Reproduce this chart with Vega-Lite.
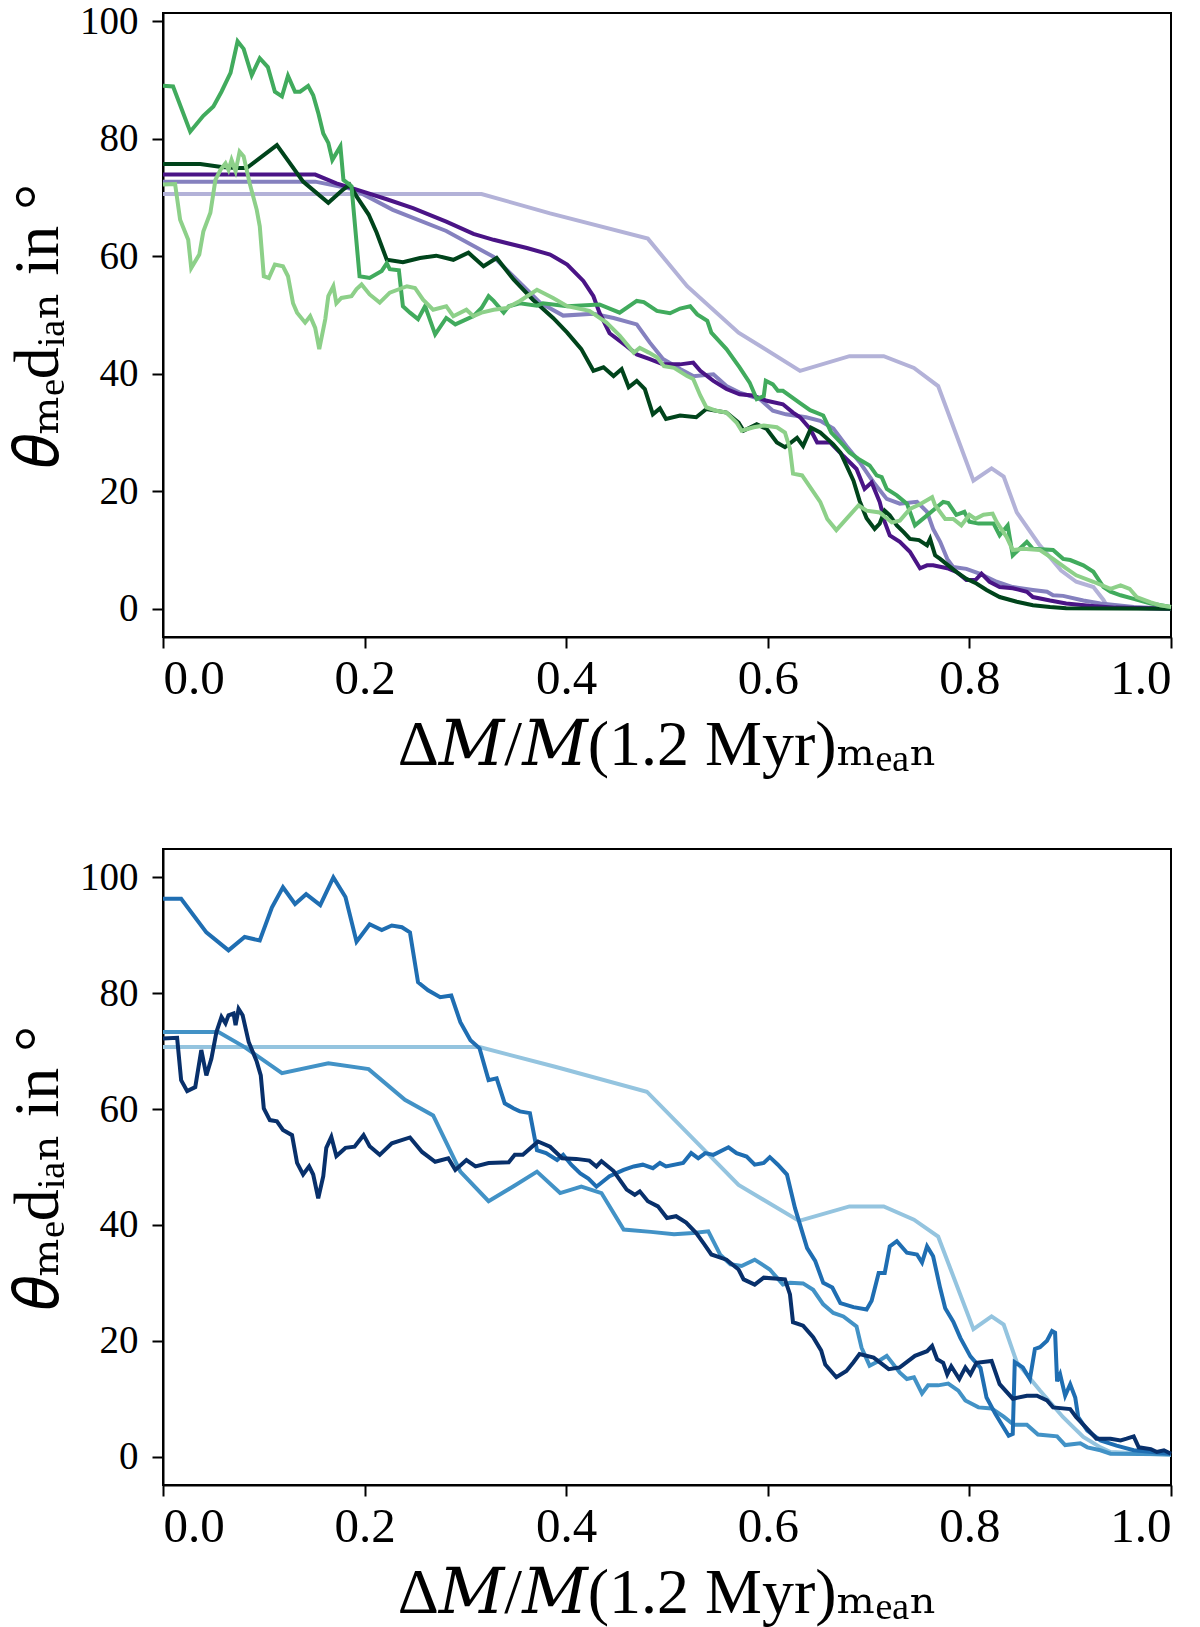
{
  "$schema": "https://vega.github.io/schema/vega-lite/v6.json",
  "background": "white",
  "padding": {"left": 5, "top": 1, "right": 20, "bottom": 5},
  "datasets": {
    "top": [
      {"s":"a","x":0,"y":70.6},{"s":"a","x":0.316,"y":70.6},{"s":"a","x":0.384,"y":67.3},{"s":"a","x":0.481,"y":63.0},{"s":"a","x":0.52,"y":54.9},{"s":"a","x":0.571,"y":47.0},{"s":"a","x":0.632,"y":40.5},{"s":"a","x":0.681,"y":43.0},{"s":"a","x":0.715,"y":43.0},{"s":"a","x":0.745,"y":41.0},{"s":"a","x":0.769,"y":37.9},{"s":"a","x":0.804,"y":21.8},{"s":"a","x":0.822,"y":23.9},{"s":"a","x":0.834,"y":22.5},{"s":"a","x":0.847,"y":16.4},{"s":"a","x":0.869,"y":11.0},{"s":"a","x":0.891,"y":6.5},{"s":"a","x":0.906,"y":4.6},{"s":"a","x":0.923,"y":3.7},{"s":"a","x":0.933,"y":1.5},{"s":"a","x":0.937,"y":0.3},{"s":"a","x":1.0,"y":0},
      {"s":"b","x":0,"y":72.7},{"s":"b","x":0.151,"y":72.7},{"s":"b","x":0.189,"y":71.4},{"s":"b","x":0.228,"y":67.9},{"s":"b","x":0.281,"y":64.3},{"s":"b","x":0.328,"y":59.9},{"s":"b","x":0.354,"y":55.5},{"s":"b","x":0.374,"y":52.1},{"s":"b","x":0.397,"y":49.9},{"s":"b","x":0.427,"y":50.2},{"s":"b","x":0.447,"y":49.5},{"s":"b","x":0.47,"y":48.4},{"s":"b","x":0.483,"y":45.3},{"s":"b","x":0.496,"y":42.5},{"s":"b","x":0.513,"y":40.8},{"s":"b","x":0.526,"y":39.6},{"s":"b","x":0.546,"y":39.9},{"s":"b","x":0.559,"y":37.9},{"s":"b","x":0.572,"y":36.8},{"s":"b","x":0.592,"y":35.7},{"s":"b","x":0.605,"y":33.7},{"s":"b","x":0.618,"y":33.1},{"s":"b","x":0.638,"y":32.6},{"s":"b","x":0.652,"y":32.0},{"s":"b","x":0.665,"y":30.7},{"s":"b","x":0.678,"y":27.7},{"s":"b","x":0.691,"y":25.0},{"s":"b","x":0.705,"y":21.5},{"s":"b","x":0.718,"y":18.7},{"s":"b","x":0.731,"y":17.9},{"s":"b","x":0.748,"y":18.2},{"s":"b","x":0.758,"y":16.5},{"s":"b","x":0.764,"y":13.6},{"s":"b","x":0.771,"y":11.4},{"s":"b","x":0.778,"y":8.5},{"s":"b","x":0.784,"y":7.1},{"s":"b","x":0.797,"y":6.8},{"s":"b","x":0.81,"y":6.0},{"s":"b","x":0.827,"y":4.6},{"s":"b","x":0.843,"y":3.7},{"s":"b","x":0.863,"y":3.2},{"s":"b","x":0.877,"y":2.9},{"s":"b","x":0.883,"y":2.3},{"s":"b","x":0.893,"y":2.2},{"s":"b","x":0.913,"y":1.4},{"s":"b","x":0.93,"y":0.9},{"s":"b","x":0.963,"y":0.3},{"s":"b","x":1.0,"y":0},
      {"s":"c","x":0,"y":73.9},{"s":"c","x":0.151,"y":73.9},{"s":"c","x":0.172,"y":72.4},{"s":"c","x":0.189,"y":71.5},{"s":"c","x":0.222,"y":69.7},{"s":"c","x":0.248,"y":68.2},{"s":"c","x":0.281,"y":65.9},{"s":"c","x":0.308,"y":63.8},{"s":"c","x":0.328,"y":62.8},{"s":"c","x":0.361,"y":61.4},{"s":"c","x":0.384,"y":60.3},{"s":"c","x":0.401,"y":58.6},{"s":"c","x":0.417,"y":55.8},{"s":"c","x":0.427,"y":53.2},{"s":"c","x":0.433,"y":50.4},{"s":"c","x":0.443,"y":46.9},{"s":"c","x":0.46,"y":44.7},{"s":"c","x":0.47,"y":43.3},{"s":"c","x":0.483,"y":42.5},{"s":"c","x":0.496,"y":41.6},{"s":"c","x":0.513,"y":41.6},{"s":"c","x":0.526,"y":41.9},{"s":"c","x":0.533,"y":40.5},{"s":"c","x":0.546,"y":38.8},{"s":"c","x":0.559,"y":37.4},{"s":"c","x":0.572,"y":36.5},{"s":"c","x":0.585,"y":36.3},{"s":"c","x":0.599,"y":35.4},{"s":"c","x":0.615,"y":34.8},{"s":"c","x":0.625,"y":33.4},{"s":"c","x":0.632,"y":32.6},{"s":"c","x":0.642,"y":30.6},{"s":"c","x":0.649,"y":28.3},{"s":"c","x":0.662,"y":28.3},{"s":"c","x":0.675,"y":26.0},{"s":"c","x":0.688,"y":23.8},{"s":"c","x":0.696,"y":20.4},{"s":"c","x":0.703,"y":21.5},{"s":"c","x":0.711,"y":18.2},{"s":"c","x":0.716,"y":14.8},{"s":"c","x":0.721,"y":12.5},{"s":"c","x":0.731,"y":11.4},{"s":"c","x":0.741,"y":9.7},{"s":"c","x":0.751,"y":6.9},{"s":"c","x":0.758,"y":7.4},{"s":"c","x":0.764,"y":7.4},{"s":"c","x":0.778,"y":6.9},{"s":"c","x":0.787,"y":6.3},{"s":"c","x":0.797,"y":4.9},{"s":"c","x":0.806,"y":4.9},{"s":"c","x":0.812,"y":6.0},{"s":"c","x":0.82,"y":4.6},{"s":"c","x":0.83,"y":3.7},{"s":"c","x":0.843,"y":3.5},{"s":"c","x":0.857,"y":2.9},{"s":"c","x":0.863,"y":2.0},{"s":"c","x":0.88,"y":1.4},{"s":"c","x":0.896,"y":0.9},{"s":"c","x":0.919,"y":0.5},{"s":"c","x":0.945,"y":0.2},{"s":"c","x":1.0,"y":0},
      {"s":"d","x":0,"y":75.7},{"s":"d","x":0.037,"y":75.7},{"s":"d","x":0.058,"y":75.2},{"s":"d","x":0.073,"y":75.0},{"s":"d","x":0.083,"y":75.0},{"s":"d","x":0.113,"y":78.9},{"s":"d","x":0.139,"y":72.7},{"s":"d","x":0.164,"y":69.1},{"s":"d","x":0.177,"y":71.1},{"s":"d","x":0.185,"y":72.2},{"s":"d","x":0.192,"y":70.2},{"s":"d","x":0.204,"y":67.1},{"s":"d","x":0.212,"y":64.0},{"s":"d","x":0.222,"y":59.4},{"s":"d","x":0.238,"y":59.0},{"s":"d","x":0.255,"y":59.7},{"s":"d","x":0.271,"y":60.1},{"s":"d","x":0.288,"y":59.4},{"s":"d","x":0.303,"y":60.6},{"s":"d","x":0.318,"y":58.3},{"s":"d","x":0.331,"y":59.7},{"s":"d","x":0.348,"y":56.0},{"s":"d","x":0.367,"y":52.6},{"s":"d","x":0.387,"y":49.5},{"s":"d","x":0.401,"y":47.0},{"s":"d","x":0.415,"y":44.2},{"s":"d","x":0.427,"y":40.5},{"s":"d","x":0.437,"y":41.1},{"s":"d","x":0.447,"y":39.6},{"s":"d","x":0.455,"y":40.8},{"s":"d","x":0.462,"y":37.7},{"s":"d","x":0.47,"y":38.8},{"s":"d","x":0.478,"y":37.4},{"s":"d","x":0.486,"y":33.1},{"s":"d","x":0.493,"y":34.1},{"s":"d","x":0.499,"y":32.3},{"s":"d","x":0.513,"y":32.9},{"s":"d","x":0.529,"y":32.6},{"s":"d","x":0.539,"y":34.0},{"s":"d","x":0.559,"y":33.4},{"s":"d","x":0.571,"y":31.7},{"s":"d","x":0.576,"y":30.3},{"s":"d","x":0.589,"y":31.4},{"s":"d","x":0.599,"y":30.6},{"s":"d","x":0.609,"y":28.3},{"s":"d","x":0.617,"y":27.5},{"s":"d","x":0.629,"y":29.1},{"s":"d","x":0.635,"y":27.7},{"s":"d","x":0.643,"y":30.8},{"s":"d","x":0.652,"y":30.0},{"s":"d","x":0.665,"y":28.0},{"s":"d","x":0.672,"y":26.6},{"s":"d","x":0.678,"y":24.4},{"s":"d","x":0.685,"y":21.8},{"s":"d","x":0.691,"y":18.4},{"s":"d","x":0.698,"y":15.4},{"s":"d","x":0.706,"y":13.6},{"s":"d","x":0.711,"y":14.5},{"s":"d","x":0.716,"y":16.7},{"s":"d","x":0.721,"y":15.9},{"s":"d","x":0.728,"y":14.2},{"s":"d","x":0.735,"y":13.0},{"s":"d","x":0.741,"y":11.9},{"s":"d","x":0.75,"y":11.7},{"s":"d","x":0.758,"y":10.8},{"s":"d","x":0.761,"y":11.9},{"s":"d","x":0.766,"y":9.1},{"s":"d","x":0.771,"y":8.5},{"s":"d","x":0.779,"y":7.4},{"s":"d","x":0.787,"y":6.3},{"s":"d","x":0.797,"y":5.1},{"s":"d","x":0.807,"y":4.3},{"s":"d","x":0.817,"y":3.2},{"s":"d","x":0.83,"y":2.0},{"s":"d","x":0.847,"y":1.2},{"s":"d","x":0.863,"y":0.6},{"s":"d","x":0.88,"y":0.3},{"s":"d","x":0.896,"y":0.1},{"s":"d","x":1.0,"y":0},
      {"s":"e","x":0,"y":89.0},{"s":"e","x":0.01,"y":88.9},{"s":"e","x":0.027,"y":81.2},{"s":"e","x":0.04,"y":83.9},{"s":"e","x":0.05,"y":85.5},{"s":"e","x":0.058,"y":88.0},{"s":"e","x":0.067,"y":91.2},{"s":"e","x":0.074,"y":96.6},{"s":"e","x":0.08,"y":95.3},{"s":"e","x":0.088,"y":90.8},{"s":"e","x":0.096,"y":93.7},{"s":"e","x":0.104,"y":92.2},{"s":"e","x":0.111,"y":88.0},{"s":"e","x":0.118,"y":87.2},{"s":"e","x":0.124,"y":90.7},{"s":"e","x":0.131,"y":88.0},{"s":"e","x":0.136,"y":88.0},{"s":"e","x":0.144,"y":89.0},{"s":"e","x":0.149,"y":87.4},{"s":"e","x":0.154,"y":84.4},{"s":"e","x":0.159,"y":80.9},{"s":"e","x":0.164,"y":79.3},{"s":"e","x":0.168,"y":76.4},{"s":"e","x":0.176,"y":78.7},{"s":"e","x":0.179,"y":73.0},{"s":"e","x":0.187,"y":71.9},{"s":"e","x":0.195,"y":56.6},{"s":"e","x":0.205,"y":56.3},{"s":"e","x":0.217,"y":57.5},{"s":"e","x":0.222,"y":58.8},{"s":"e","x":0.225,"y":57.8},{"s":"e","x":0.234,"y":57.6},{"s":"e","x":0.238,"y":51.5},{"s":"e","x":0.245,"y":50.4},{"s":"e","x":0.253,"y":49.3},{"s":"e","x":0.26,"y":51.5},{"s":"e","x":0.27,"y":46.7},{"s":"e","x":0.281,"y":49.5},{"s":"e","x":0.29,"y":48.4},{"s":"e","x":0.308,"y":49.8},{"s":"e","x":0.316,"y":51.2},{"s":"e","x":0.323,"y":53.2},{"s":"e","x":0.328,"y":52.4},{"s":"e","x":0.338,"y":50.4},{"s":"e","x":0.343,"y":51.5},{"s":"e","x":0.354,"y":52.0},{"s":"e","x":0.371,"y":51.6},{"s":"e","x":0.377,"y":52.0},{"s":"e","x":0.401,"y":51.5},{"s":"e","x":0.433,"y":51.8},{"s":"e","x":0.453,"y":50.4},{"s":"e","x":0.47,"y":52.4},{"s":"e","x":0.477,"y":52.2},{"s":"e","x":0.49,"y":50.7},{"s":"e","x":0.503,"y":50.3},{"s":"e","x":0.513,"y":51.1},{"s":"e","x":0.523,"y":51.5},{"s":"e","x":0.53,"y":50.1},{"s":"e","x":0.54,"y":49.0},{"s":"e","x":0.544,"y":47.0},{"s":"e","x":0.559,"y":44.2},{"s":"e","x":0.572,"y":41.1},{"s":"e","x":0.582,"y":38.5},{"s":"e","x":0.589,"y":35.7},{"s":"e","x":0.596,"y":36.2},{"s":"e","x":0.598,"y":38.8},{"s":"e","x":0.605,"y":38.2},{"s":"e","x":0.61,"y":37.1},{"s":"e","x":0.615,"y":37.1},{"s":"e","x":0.632,"y":35.0},{"s":"e","x":0.642,"y":33.8},{"s":"e","x":0.655,"y":32.9},{"s":"e","x":0.663,"y":30.0},{"s":"e","x":0.675,"y":27.8},{"s":"e","x":0.681,"y":26.6},{"s":"e","x":0.69,"y":25.5},{"s":"e","x":0.701,"y":24.4},{"s":"e","x":0.708,"y":22.7},{"s":"e","x":0.713,"y":22.4},{"s":"e","x":0.718,"y":20.4},{"s":"e","x":0.728,"y":19.3},{"s":"e","x":0.738,"y":17.9},{"s":"e","x":0.746,"y":14.2},{"s":"e","x":0.758,"y":15.9},{"s":"e","x":0.774,"y":18.2},{"s":"e","x":0.779,"y":18.0},{"s":"e","x":0.787,"y":16.0},{"s":"e","x":0.795,"y":16.5},{"s":"e","x":0.8,"y":14.8},{"s":"e","x":0.809,"y":14.5},{"s":"e","x":0.824,"y":14.5},{"s":"e","x":0.83,"y":12.5},{"s":"e","x":0.838,"y":14.2},{"s":"e","x":0.843,"y":9.1},{"s":"e","x":0.857,"y":11.4},{"s":"e","x":0.863,"y":10.2},{"s":"e","x":0.883,"y":10.0},{"s":"e","x":0.893,"y":8.5},{"s":"e","x":0.9,"y":8.3},{"s":"e","x":0.913,"y":7.4},{"s":"e","x":0.923,"y":6.3},{"s":"e","x":0.933,"y":3.7},{"s":"e","x":0.94,"y":2.9},{"s":"e","x":0.95,"y":2.3},{"s":"e","x":0.963,"y":1.7},{"s":"e","x":0.98,"y":0.9},{"s":"e","x":1.0,"y":0.3},
      {"s":"f","x":0,"y":72.2},{"s":"f","x":0.012,"y":72.3},{"s":"f","x":0.017,"y":66.2},{"s":"f","x":0.021,"y":64.5},{"s":"f","x":0.025,"y":62.8},{"s":"f","x":0.028,"y":58.0},{"s":"f","x":0.036,"y":60.3},{"s":"f","x":0.04,"y":64.2},{"s":"f","x":0.047,"y":67.4},{"s":"f","x":0.052,"y":73.0},{"s":"f","x":0.057,"y":74.7},{"s":"f","x":0.062,"y":75.8},{"s":"f","x":0.065,"y":74.7},{"s":"f","x":0.068,"y":76.4},{"s":"f","x":0.072,"y":74.5},{"s":"f","x":0.076,"y":77.8},{"s":"f","x":0.08,"y":77.0},{"s":"f","x":0.086,"y":72.4},{"s":"f","x":0.093,"y":67.9},{"s":"f","x":0.096,"y":65.1},{"s":"f","x":0.1,"y":56.6},{"s":"f","x":0.105,"y":56.3},{"s":"f","x":0.111,"y":58.6},{"s":"f","x":0.119,"y":58.3},{"s":"f","x":0.124,"y":56.6},{"s":"f","x":0.129,"y":52.0},{"s":"f","x":0.133,"y":50.4},{"s":"f","x":0.141,"y":48.7},{"s":"f","x":0.146,"y":49.8},{"s":"f","x":0.151,"y":47.8},{"s":"f","x":0.155,"y":44.2},{"s":"f","x":0.161,"y":49.3},{"s":"f","x":0.164,"y":53.2},{"s":"f","x":0.169,"y":54.9},{"s":"f","x":0.172,"y":52.0},{"s":"f","x":0.177,"y":52.9},{"s":"f","x":0.187,"y":53.2},{"s":"f","x":0.192,"y":54.4},{"s":"f","x":0.197,"y":55.2},{"s":"f","x":0.205,"y":53.5},{"s":"f","x":0.215,"y":52.1},{"s":"f","x":0.225,"y":53.8},{"s":"f","x":0.242,"y":54.9},{"s":"f","x":0.25,"y":54.6},{"s":"f","x":0.258,"y":52.6},{"s":"f","x":0.268,"y":50.9},{"s":"f","x":0.281,"y":51.5},{"s":"f","x":0.288,"y":49.8},{"s":"f","x":0.301,"y":50.9},{"s":"f","x":0.308,"y":49.8},{"s":"f","x":0.316,"y":50.4},{"s":"f","x":0.328,"y":50.9},{"s":"f","x":0.341,"y":51.2},{"s":"f","x":0.354,"y":52.4},{"s":"f","x":0.371,"y":54.3},{"s":"f","x":0.387,"y":52.9},{"s":"f","x":0.401,"y":51.5},{"s":"f","x":0.423,"y":50.7},{"s":"f","x":0.44,"y":48.7},{"s":"f","x":0.453,"y":46.5},{"s":"f","x":0.467,"y":43.6},{"s":"f","x":0.473,"y":44.4},{"s":"f","x":0.482,"y":43.6},{"s":"f","x":0.49,"y":42.8},{"s":"f","x":0.497,"y":41.3},{"s":"f","x":0.507,"y":41.0},{"s":"f","x":0.52,"y":39.6},{"s":"f","x":0.526,"y":39.1},{"s":"f","x":0.533,"y":36.3},{"s":"f","x":0.539,"y":34.3},{"s":"f","x":0.549,"y":33.7},{"s":"f","x":0.559,"y":33.4},{"s":"f","x":0.569,"y":31.7},{"s":"f","x":0.574,"y":30.3},{"s":"f","x":0.586,"y":30.9},{"s":"f","x":0.596,"y":31.2},{"s":"f","x":0.609,"y":30.9},{"s":"f","x":0.617,"y":30.0},{"s":"f","x":0.622,"y":27.2},{"s":"f","x":0.625,"y":23.0},{"s":"f","x":0.634,"y":22.7},{"s":"f","x":0.642,"y":20.7},{"s":"f","x":0.652,"y":18.2},{"s":"f","x":0.659,"y":15.3},{"s":"f","x":0.668,"y":13.4},{"s":"f","x":0.678,"y":15.3},{"s":"f","x":0.69,"y":17.6},{"s":"f","x":0.698,"y":16.7},{"s":"f","x":0.711,"y":16.4},{"s":"f","x":0.723,"y":14.7},{"s":"f","x":0.731,"y":15.0},{"s":"f","x":0.741,"y":17.0},{"s":"f","x":0.751,"y":17.8},{"s":"f","x":0.763,"y":19.0},{"s":"f","x":0.766,"y":17.6},{"s":"f","x":0.776,"y":15.3},{"s":"f","x":0.784,"y":15.3},{"s":"f","x":0.792,"y":14.2},{"s":"f","x":0.8,"y":16.0},{"s":"f","x":0.806,"y":15.3},{"s":"f","x":0.814,"y":16.0},{"s":"f","x":0.823,"y":16.2},{"s":"f","x":0.827,"y":14.8},{"s":"f","x":0.837,"y":12.2},{"s":"f","x":0.843,"y":10.0},{"s":"f","x":0.853,"y":10.2},{"s":"f","x":0.87,"y":10.0},{"s":"f","x":0.883,"y":8.5},{"s":"f","x":0.896,"y":6.9},{"s":"f","x":0.906,"y":5.7},{"s":"f","x":0.923,"y":4.6},{"s":"f","x":0.94,"y":3.4},{"s":"f","x":0.95,"y":4.0},{"s":"f","x":0.959,"y":3.4},{"s":"f","x":0.966,"y":2.0},{"s":"f","x":0.98,"y":1.1},{"s":"f","x":0.989,"y":0.6},{"s":"f","x":1.0,"y":0.3}
    ],
    "bottom": [
      {"s":"a","x":0,"y":70.7},{"s":"a","x":0.314,"y":70.7},{"s":"a","x":0.389,"y":67.3},{"s":"a","x":0.48,"y":63.0},{"s":"a","x":0.571,"y":46.9},{"s":"a","x":0.631,"y":40.7},{"s":"a","x":0.681,"y":43.2},{"s":"a","x":0.715,"y":43.2},{"s":"a","x":0.745,"y":40.9},{"s":"a","x":0.769,"y":38.0},{"s":"a","x":0.804,"y":22.0},{"s":"a","x":0.822,"y":24.2},{"s":"a","x":0.834,"y":22.8},{"s":"a","x":0.847,"y":16.3},{"s":"a","x":0.87,"y":11.4},{"s":"a","x":0.893,"y":6.8},{"s":"a","x":0.903,"y":5.1},{"s":"a","x":0.913,"y":3.4},{"s":"a","x":0.93,"y":1.6},{"s":"a","x":0.94,"y":0.8},{"s":"a","x":1.0,"y":0.3},
      {"s":"b","x":0,"y":73.3},{"s":"b","x":0.055,"y":73.3},{"s":"b","x":0.081,"y":70.7},{"s":"b","x":0.118,"y":66.2},{"s":"b","x":0.164,"y":67.9},{"s":"b","x":0.204,"y":66.9},{"s":"b","x":0.24,"y":61.6},{"s":"b","x":0.268,"y":58.9},{"s":"b","x":0.295,"y":49.2},{"s":"b","x":0.323,"y":44.1},{"s":"b","x":0.349,"y":46.8},{"s":"b","x":0.371,"y":49.2},{"s":"b","x":0.394,"y":45.5},{"s":"b","x":0.415,"y":46.6},{"s":"b","x":0.435,"y":45.5},{"s":"b","x":0.457,"y":39.2},{"s":"b","x":0.484,"y":38.8},{"s":"b","x":0.507,"y":38.4},{"s":"b","x":0.526,"y":38.6},{"s":"b","x":0.541,"y":38.9},{"s":"b","x":0.553,"y":34.8},{"s":"b","x":0.563,"y":33.2},{"s":"b","x":0.574,"y":32.9},{"s":"b","x":0.587,"y":34.0},{"s":"b","x":0.602,"y":32.3},{"s":"b","x":0.615,"y":29.7},{"s":"b","x":0.622,"y":30.0},{"s":"b","x":0.635,"y":29.9},{"s":"b","x":0.645,"y":28.8},{"s":"b","x":0.655,"y":26.3},{"s":"b","x":0.665,"y":24.8},{"s":"b","x":0.675,"y":24.2},{"s":"b","x":0.688,"y":22.5},{"s":"b","x":0.693,"y":18.8},{"s":"b","x":0.701,"y":15.7},{"s":"b","x":0.71,"y":16.5},{"s":"b","x":0.718,"y":17.4},{"s":"b","x":0.731,"y":14.5},{"s":"b","x":0.738,"y":13.4},{"s":"b","x":0.745,"y":13.7},{"s":"b","x":0.753,"y":10.9},{"s":"b","x":0.759,"y":12.3},{"s":"b","x":0.769,"y":12.3},{"s":"b","x":0.779,"y":12.6},{"s":"b","x":0.789,"y":11.4},{"s":"b","x":0.796,"y":9.7},{"s":"b","x":0.809,"y":8.5},{"s":"b","x":0.822,"y":8.3},{"s":"b","x":0.834,"y":6.9},{"s":"b","x":0.844,"y":5.5},{"s":"b","x":0.857,"y":5.5},{"s":"b","x":0.868,"y":3.8},{"s":"b","x":0.887,"y":3.5},{"s":"b","x":0.895,"y":2.0},{"s":"b","x":0.91,"y":2.3},{"s":"b","x":0.917,"y":1.6},{"s":"b","x":0.93,"y":1.1},{"s":"b","x":0.94,"y":0.5},{"s":"b","x":1.0,"y":0.4},
      {"s":"c","x":0,"y":96.3},{"s":"c","x":0.018,"y":96.3},{"s":"c","x":0.043,"y":90.5},{"s":"c","x":0.065,"y":87.4},{"s":"c","x":0.081,"y":89.7},{"s":"c","x":0.096,"y":89.1},{"s":"c","x":0.108,"y":94.8},{"s":"c","x":0.119,"y":98.3},{"s":"c","x":0.131,"y":95.4},{"s":"c","x":0.142,"y":97.1},{"s":"c","x":0.156,"y":95.2},{"s":"c","x":0.169,"y":100.0},{"s":"c","x":0.181,"y":96.6},{"s":"c","x":0.192,"y":88.9},{"s":"c","x":0.205,"y":91.9},{"s":"c","x":0.217,"y":90.9},{"s":"c","x":0.227,"y":91.7},{"s":"c","x":0.237,"y":91.4},{"s":"c","x":0.245,"y":90.5},{"s":"c","x":0.253,"y":81.9},{"s":"c","x":0.263,"y":80.5},{"s":"c","x":0.275,"y":79.3},{"s":"c","x":0.286,"y":79.6},{"s":"c","x":0.295,"y":75.0},{"s":"c","x":0.305,"y":71.9},{"s":"c","x":0.314,"y":70.5},{"s":"c","x":0.323,"y":65.0},{"s":"c","x":0.331,"y":65.3},{"s":"c","x":0.339,"y":61.0},{"s":"c","x":0.348,"y":60.1},{"s":"c","x":0.354,"y":59.6},{"s":"c","x":0.364,"y":59.3},{"s":"c","x":0.371,"y":52.9},{"s":"c","x":0.38,"y":52.4},{"s":"c","x":0.391,"y":51.2},{"s":"c","x":0.397,"y":52.1},{"s":"c","x":0.405,"y":50.4},{"s":"c","x":0.414,"y":48.9},{"s":"c","x":0.422,"y":48.0},{"s":"c","x":0.43,"y":46.6},{"s":"c","x":0.443,"y":48.4},{"s":"c","x":0.457,"y":49.5},{"s":"c","x":0.467,"y":50.1},{"s":"c","x":0.476,"y":50.4},{"s":"c","x":0.486,"y":49.8},{"s":"c","x":0.493,"y":50.7},{"s":"c","x":0.499,"y":50.1},{"s":"c","x":0.516,"y":50.7},{"s":"c","x":0.524,"y":52.4},{"s":"c","x":0.531,"y":51.5},{"s":"c","x":0.538,"y":52.4},{"s":"c","x":0.546,"y":52.1},{"s":"c","x":0.561,"y":53.4},{"s":"c","x":0.569,"y":52.4},{"s":"c","x":0.579,"y":51.8},{"s":"c","x":0.587,"y":50.4},{"s":"c","x":0.596,"y":50.7},{"s":"c","x":0.602,"y":51.7},{"s":"c","x":0.61,"y":50.4},{"s":"c","x":0.619,"y":48.7},{"s":"c","x":0.627,"y":42.9},{"s":"c","x":0.639,"y":36.0},{"s":"c","x":0.647,"y":33.8},{"s":"c","x":0.655,"y":30.0},{"s":"c","x":0.664,"y":29.2},{"s":"c","x":0.672,"y":26.5},{"s":"c","x":0.685,"y":25.8},{"s":"c","x":0.698,"y":25.4},{"s":"c","x":0.703,"y":26.9},{"s":"c","x":0.71,"y":31.7},{"s":"c","x":0.716,"y":31.7},{"s":"c","x":0.721,"y":36.3},{"s":"c","x":0.728,"y":37.2},{"s":"c","x":0.738,"y":35.2},{"s":"c","x":0.748,"y":34.9},{"s":"c","x":0.753,"y":33.5},{"s":"c","x":0.758,"y":36.3},{"s":"c","x":0.764,"y":34.6},{"s":"c","x":0.771,"y":29.1},{"s":"c","x":0.776,"y":25.6},{"s":"c","x":0.784,"y":23.3},{"s":"c","x":0.791,"y":20.5},{"s":"c","x":0.801,"y":17.3},{"s":"c","x":0.811,"y":15.3},{"s":"c","x":0.817,"y":10.2},{"s":"c","x":0.826,"y":7.3},{"s":"c","x":0.832,"y":5.6},{"s":"c","x":0.839,"y":3.6},{"s":"c","x":0.843,"y":3.9},{"s":"c","x":0.845,"y":16.3},{"s":"c","x":0.853,"y":15.4},{"s":"c","x":0.86,"y":13.4},{"s":"c","x":0.865,"y":18.6},{"s":"c","x":0.87,"y":18.9},{"s":"c","x":0.877,"y":20.0},{"s":"c","x":0.882,"y":21.7},{"s":"c","x":0.885,"y":21.4},{"s":"c","x":0.887,"y":13.0},{"s":"c","x":0.89,"y":14.2},{"s":"c","x":0.895,"y":10.5},{"s":"c","x":0.9,"y":12.5},{"s":"c","x":0.905,"y":10.2},{"s":"c","x":0.908,"y":6.8},{"s":"c","x":0.917,"y":4.5},{"s":"c","x":0.93,"y":2.8},{"s":"c","x":0.946,"y":1.9},{"s":"c","x":0.963,"y":1.1},{"s":"c","x":1.0,"y":0.5},
      {"s":"d","x":0,"y":72.2},{"s":"d","x":0.014,"y":72.3},{"s":"d","x":0.018,"y":65.0},{"s":"d","x":0.024,"y":63.1},{"s":"d","x":0.032,"y":63.8},{"s":"d","x":0.038,"y":70.2},{"s":"d","x":0.043,"y":65.8},{"s":"d","x":0.048,"y":68.7},{"s":"d","x":0.053,"y":73.3},{"s":"d","x":0.058,"y":75.9},{"s":"d","x":0.062,"y":74.8},{"s":"d","x":0.065,"y":76.2},{"s":"d","x":0.07,"y":76.5},{"s":"d","x":0.072,"y":74.5},{"s":"d","x":0.075,"y":77.3},{"s":"d","x":0.079,"y":76.2},{"s":"d","x":0.085,"y":71.6},{"s":"d","x":0.093,"y":68.2},{"s":"d","x":0.097,"y":65.8},{"s":"d","x":0.1,"y":60.1},{"s":"d","x":0.106,"y":58.1},{"s":"d","x":0.113,"y":57.9},{"s":"d","x":0.119,"y":56.4},{"s":"d","x":0.128,"y":55.5},{"s":"d","x":0.133,"y":50.7},{"s":"d","x":0.139,"y":48.7},{"s":"d","x":0.145,"y":50.1},{"s":"d","x":0.149,"y":48.7},{"s":"d","x":0.154,"y":44.6},{"s":"d","x":0.159,"y":48.4},{"s":"d","x":0.162,"y":53.3},{"s":"d","x":0.167,"y":55.2},{"s":"d","x":0.172,"y":51.9},{"s":"d","x":0.181,"y":53.3},{"s":"d","x":0.19,"y":53.5},{"s":"d","x":0.199,"y":55.5},{"s":"d","x":0.205,"y":53.6},{"s":"d","x":0.215,"y":52.1},{"s":"d","x":0.227,"y":54.1},{"s":"d","x":0.245,"y":55.1},{"s":"d","x":0.257,"y":52.6},{"s":"d","x":0.27,"y":50.9},{"s":"d","x":0.283,"y":51.5},{"s":"d","x":0.29,"y":49.5},{"s":"d","x":0.301,"y":51.2},{"s":"d","x":0.31,"y":50.1},{"s":"d","x":0.323,"y":50.7},{"s":"d","x":0.343,"y":50.8},{"s":"d","x":0.349,"y":52.1},{"s":"d","x":0.357,"y":52.1},{"s":"d","x":0.372,"y":54.4},{"s":"d","x":0.384,"y":53.5},{"s":"d","x":0.396,"y":51.5},{"s":"d","x":0.41,"y":51.4},{"s":"d","x":0.423,"y":51.1},{"s":"d","x":0.43,"y":50.1},{"s":"d","x":0.435,"y":51.0},{"s":"d","x":0.447,"y":49.3},{"s":"d","x":0.46,"y":46.1},{"s":"d","x":0.468,"y":45.2},{"s":"d","x":0.473,"y":45.8},{"s":"d","x":0.481,"y":44.1},{"s":"d","x":0.491,"y":43.2},{"s":"d","x":0.5,"y":41.2},{"s":"d","x":0.509,"y":41.5},{"s":"d","x":0.519,"y":40.4},{"s":"d","x":0.529,"y":38.6},{"s":"d","x":0.536,"y":36.9},{"s":"d","x":0.544,"y":34.9},{"s":"d","x":0.559,"y":34.0},{"s":"d","x":0.571,"y":32.3},{"s":"d","x":0.576,"y":30.6},{"s":"d","x":0.587,"y":29.7},{"s":"d","x":0.596,"y":30.9},{"s":"d","x":0.617,"y":30.6},{"s":"d","x":0.622,"y":28.0},{"s":"d","x":0.625,"y":23.2},{"s":"d","x":0.635,"y":22.6},{"s":"d","x":0.645,"y":20.6},{"s":"d","x":0.653,"y":18.3},{"s":"d","x":0.657,"y":15.9},{"s":"d","x":0.668,"y":13.7},{"s":"d","x":0.678,"y":14.8},{"s":"d","x":0.685,"y":16.3},{"s":"d","x":0.691,"y":17.7},{"s":"d","x":0.705,"y":17.1},{"s":"d","x":0.72,"y":15.1},{"s":"d","x":0.731,"y":15.4},{"s":"d","x":0.746,"y":17.4},{"s":"d","x":0.758,"y":18.2},{"s":"d","x":0.763,"y":19.1},{"s":"d","x":0.768,"y":16.8},{"s":"d","x":0.774,"y":16.2},{"s":"d","x":0.778,"y":14.2},{"s":"d","x":0.782,"y":15.6},{"s":"d","x":0.79,"y":13.4},{"s":"d","x":0.796,"y":15.4},{"s":"d","x":0.801,"y":14.2},{"s":"d","x":0.807,"y":16.2},{"s":"d","x":0.822,"y":16.5},{"s":"d","x":0.83,"y":12.5},{"s":"d","x":0.843,"y":10.0},{"s":"d","x":0.857,"y":10.5},{"s":"d","x":0.867,"y":10.5},{"s":"d","x":0.877,"y":9.7},{"s":"d","x":0.883,"y":8.5},{"s":"d","x":0.9,"y":8.2},{"s":"d","x":0.906,"y":6.8},{"s":"d","x":0.917,"y":4.8},{"s":"d","x":0.926,"y":3.1},{"s":"d","x":0.94,"y":3.1},{"s":"d","x":0.95,"y":2.8},{"s":"d","x":0.956,"y":3.1},{"s":"d","x":0.963,"y":3.5},{"s":"d","x":0.968,"y":1.6},{"s":"d","x":0.98,"y":1.3},{"s":"d","x":0.986,"y":0.8},{"s":"d","x":0.993,"y":1.1},{"s":"d","x":1.0,"y":0.5}
    ]
  },
  "spacing": 70,
  "vconcat": [
    {
      "width": 1008,
      "height": 624,
      "data": {"name": "top"},
      "mark": {"type": "line", "strokeWidth": 4},
      "encoding": {
        "x": {
          "field": "x", "type": "quantitative",
          "scale": {"domain": [0, 1], "nice": false, "zero": false},
          "axis": {"values": [0, 0.2, 0.4, 0.6, 0.8, 1.0], "format": ".1f", "title": "Δ𝑀/𝑀(1.2 Myr)ₘₑₐₙ"}
        },
        "y": {
          "field": "y", "type": "quantitative",
          "scale": {"domain": [-4.8, 101.4], "nice": false, "zero": false},
          "axis": {"values": [0, 20, 40, 60, 80, 100], "title": "𝜃ₘₑdᵢₐₙ in °"}
        },
        "color": {
          "field": "s", "type": "nominal", "legend": null,
          "scale": {"domain": ["a", "b", "c", "d", "e", "f"], "range": ["#b3b2d8", "#8581bf", "#4a1486", "#00441b", "#41ab5d", "#8dd089"]}
        }
      }
    },
    {
      "width": 1008,
      "height": 636,
      "data": {"name": "bottom"},
      "mark": {"type": "line", "strokeWidth": 4},
      "encoding": {
        "x": {
          "field": "x", "type": "quantitative",
          "scale": {"domain": [0, 1], "nice": false, "zero": false},
          "axis": {"values": [0, 0.2, 0.4, 0.6, 0.8, 1.0], "format": ".1f", "title": "Δ𝑀/𝑀(1.2 Myr)ₘₑₐₙ"}
        },
        "y": {
          "field": "y", "type": "quantitative",
          "scale": {"domain": [-4.9, 104.9], "nice": false, "zero": false},
          "axis": {"values": [0, 20, 40, 60, 80, 100], "title": "𝜃ₘₑdᵢₐₙ in °"}
        },
        "color": {
          "field": "s", "type": "nominal", "legend": null,
          "scale": {"domain": ["a", "b", "c", "d"], "range": ["#94c4df", "#4292c6", "#1f6eb2", "#08306b"]}
        }
      }
    }
  ],
  "resolve": {"scale": {"color": "independent"}},
  "config": {
    "view": {"stroke": "black", "strokeWidth": 2},
    "font": "Liberation Serif",
    "axis": {
      "grid": false,
      "domainColor": "black",
      "domainWidth": 2,
      "tickColor": "black",
      "tickWidth": 2,
      "tickSize": 11,
      "labelColor": "black",
      "titleColor": "black",
      "labelFont": "Liberation Serif",
      "titleFont": "Liberation Serif, DejaVu Serif",
      "titleFontWeight": "normal",
      "titleFontSize": 64
    },
    "axisX": {"labelFontSize": 49, "labelPadding": 6, "titlePadding": 10},
    "axisY": {"labelFontSize": 39, "labelPadding": 14, "titlePadding": 9}
  }
}
